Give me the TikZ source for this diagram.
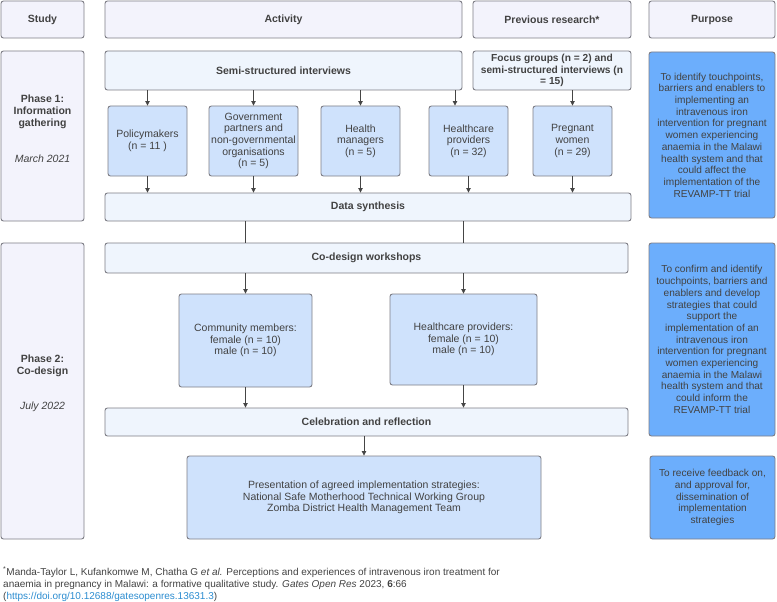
\documentclass[tikz,border=0pt]{standalone}
\usepackage{fontspec}
\setmainfont{Liberation Sans}
\usetikzlibrary{arrows.meta}
\definecolor{hdrc}{HTML}{F3F3FC}
\definecolor{actc}{HTML}{EFF5FD}
\definecolor{partc}{HTML}{CFE2FC}
\definecolor{purpc}{HTML}{6CAEFC}
\definecolor{bordc}{HTML}{7D7D85}
\definecolor{txtc}{HTML}{424242}
\definecolor{arrc}{HTML}{454545}
\definecolor{linkc}{HTML}{2B8CD0}
\begin{document}
\begin{tikzpicture}[x=1pt,y=-1pt,
  every node/.style={text=txtc, font=\fontsize{10.5}{11.7}\selectfont},
  base/.style={draw=bordc, line width=0.9pt, rounded corners=2.5pt, inner sep=0pt, align=center},
  hdr/.style={base, fill=hdrc, font=\fontsize{10.5}{11.7}\selectfont\bfseries},
  act/.style={base, fill=actc, font=\fontsize{10.5}{11.7}\selectfont\bfseries},
  part/.style={base, fill=partc},
  purp/.style={base, fill=purpc, font=\fontsize{10.1}{11.7}\selectfont},
  sz/.style 2 args={minimum width=#1, minimum height=#2},
  arr/.style={draw=arrc, line width=0.8pt, -{Triangle[width=4.5pt,length=4.5pt]}},
  ln/.style={draw=arrc, line width=0.8pt}
]
\useasboundingbox (0,0) rectangle (777,602);
% headers
\node[hdr, sz={83}{37}] (study) at (42.5,19.5) {Study};
\node[hdr, sz={357}{37}] (activity) at (283.5,19.5) {Activity};
\node[hdr, sz={158}{37}] (prev) at (552,19.5) {Previous research*};
\node[hdr, sz={126}{37}] (purpose) at (712,19.5) {Purpose};
% phase 1
\node[base, fill=hdrc, sz={83}{170}] (phase1) at (42.5,136) {};
\node[font=\fontsize{10.5}{11.7}\selectfont\bfseries, align=center] (p1t) at (42.5,112) {Phase 1:\\Information\\gathering};
\node[font=\fontsize{10.5}{11.7}\selectfont\itshape] (p1d) at (42.5,159) {March 2021};
\node[act, sz={357}{39}] (ssi) at (283.5,70.5) {Semi-structured interviews};
\node[act, sz={158}{39}, font=\fontsize{10.2}{11.7}\selectfont\bfseries] (focus) at (552,70.5) {Focus groups (n = 2) and\\semi-structured interviews (n\\= 15)};
\node[purp, sz={126}{166}] (purp1) at (712,135) {To identify touchpoints,\\barriers and enablers to\\implementing an\\intravenous iron\\intervention for pregnant\\women experiencing\\anaemia in the Malawi\\health system and that\\could affect the\\implementation of the\\REVAMP-TT trial};
\node[part, sz={79}{70}] (policy) at (147.5,141) {Policymakers\\(n = 11 )};
\node[part, sz={89}{70}] (gov) at (253.5,141) {Government\\partners and\\non-governmental\\organisations\\(n = 5)};
\node[part, sz={79}{70}] (hm) at (360.5,141) {Health\\managers\\(n = 5)};
\node[part, sz={79}{70}] (hcp) at (468.5,141) {Healthcare\\providers\\(n = 32)};
\node[part, sz={79}{70}] (pw) at (572.5,141) {Pregnant\\women\\(n = 29)};
\node[act, sz={526}{28}] (synth) at (368,207) {Data synthesis};
% phase 2
\node[base, fill=hdrc, sz={83}{296}] (phase2) at (42.5,391) {};
\node[font=\fontsize{10.5}{11.7}\selectfont\bfseries, align=center] (p2t) at (42.5,366) {Phase 2:\\Co-design};
\node[font=\fontsize{10.5}{11.7}\selectfont\itshape] (p2d) at (42.5,407) {July 2022};
\node[act, sz={523}{30}] (codesign) at (366.5,258) {Co-design workshops};
\node[purp, sz={126}{193}] (purp2) at (712,339.5) {To confirm and identify\\touchpoints, barriers and\\enablers and develop\\strategies that could\\support the\\implementation of an\\intravenous iron\\intervention for pregnant\\women experiencing\\anaemia in the Malawi\\health system and that\\could inform the\\REVAMP-TT trial};
\node[part, sz={133}{93}] (comm) at (245.5,340.5) {Community members:\\female (n = 10)\\male (n = 10)};
\node[part, sz={147}{91}] (hcp2) at (463.5,339.5) {Healthcare providers:\\female (n = 10)\\male (n = 10)};
\node[act, sz={523}{28}] (celeb) at (366.5,422) {Celebration and reflection};
\node[part, sz={354}{83}] (pres) at (364,497.5) {Presentation of agreed implementation strategies:\\National Safe Motherhood Technical Working Group\\Zomba District Health Management Team};
\node[purp, sz={125}{83}] (purp3) at (712.5,497.5) {To receive feedback on,\\and approval for,\\dissemination of\\implementation\\strategies};
% connectors phase 1
\draw[arr] (policy.north |- ssi.south) -- (policy.north);
\draw[arr] (gov.north |- ssi.south) -- (gov.north);
\draw[arr] (hm.north |- ssi.south) -- (hm.north);
\draw[arr] ([xshift=-13.5pt]hcp.north |- ssi.south) -- ([xshift=-13.5pt]hcp.north);
\draw[arr] (pw.north |- focus.south) -- (pw.north);
\draw[arr] (policy.south) -- (policy.south |- synth.north);
\draw[arr] (gov.south) -- (gov.south |- synth.north);
\draw[arr] (hm.south) -- (hm.south |- synth.north);
\draw[arr] (hcp.south) -- (hcp.south |- synth.north);
\draw[arr] (pw.south) -- (pw.south |- synth.north);
% connectors phase 2
\draw[ln] (comm.north |- synth.south) -- (comm.north |- codesign.north);
\draw[ln] (hcp2.north |- synth.south) -- (hcp2.north |- codesign.north);
\draw[arr] (comm.north |- codesign.south) -- (comm.north);
\draw[arr] (hcp2.north |- codesign.south) -- (hcp2.north);
\draw[arr] (comm.south) -- (comm.south |- celeb.north);
\draw[arr] (hcp2.south) -- (hcp2.south |- celeb.north);
\draw[arr] (pres.north |- celeb.south) -- (pres.north);
% footnote
\node[anchor=north west, align=left, inner sep=0pt, font=\fontsize{10}{12}\selectfont] (foot) at (3,566.5) {\textsuperscript{*}Manda-Taylor L, Kufankomwe M, Chatha G \textit{et al.} Perceptions and experiences of intravenous iron treatment for\\anaemia in pregnancy in Malawi: a formative qualitative study. \textit{Gates Open Res} 2023, \textbf{6}:66\\(\textcolor{linkc}{https://doi.org/10.12688/gatesopenres.13631.3})};
\end{tikzpicture}
\end{document}
